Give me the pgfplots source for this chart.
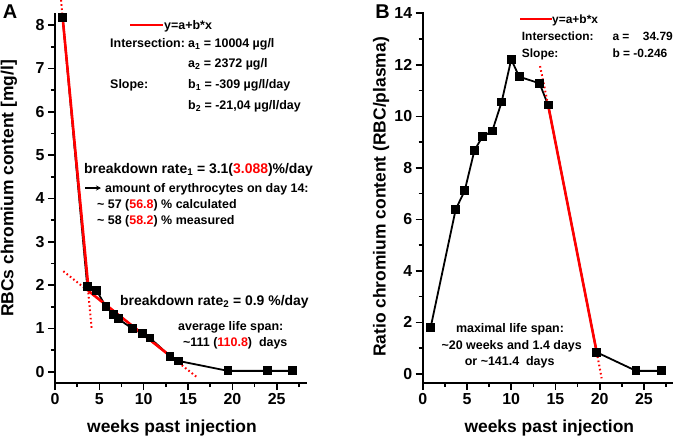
\documentclass[border=0pt]{standalone}
\usepackage{pgfplots}
\pgfplotsset{compat=1.18}
\usepackage{fontspec}
\setmainfont{Liberation Sans}
\usetikzlibrary{arrows.meta}
\newcommand{\ann}{\fontsize{12.5}{14}\selectfont\bfseries}
\newcommand{\annB}{\fontsize{12}{14}\selectfont\bfseries}
\newcommand{\bigann}{\fontsize{14}{16}\selectfont\bfseries}
\newcommand{\lab}{\fontsize{17.5}{20}\selectfont\bfseries}
\pgfplotsset{
  origin/.style={
    scale only axis,
    axis x line=bottom, axis y line=left,
    axis line style={line width=1.6bp,-},
    tick align=outside,
    major tick length=7bp, minor tick length=4bp,
    every tick/.style={black, line width=1.6bp},
    tick label style={font=\fontsize{16}{16}\selectfont\bfseries},
    /pgf/number format/assume math mode=true,
    clip=false,
  },
  fitline/.style={red, line width=2.6bp, no marks},
  fitdot/.style={red, line width=2bp, no marks, dash pattern=on 1.6bp off 2.6bp},
  dat/.style={black, line width=1.8bp, mark=square*, mark size=3.5bp, mark options={solid, fill=black}},
}
\begin{document}
\begin{tikzpicture}
\path[use as bounding box] (0bp,0bp) rectangle (677bp,-438bp);
% ---------------- Panel A ----------------
\begin{axis}[origin,
  at={(55bp,-383bp)}, anchor=south west,
  width=251.9bp, height=370bp,
  xmin=0, xmax=28.4, ymin=-0.26, ymax=8.28,
  xtick={0,5,10,15,20,25}, minor xtick={2.5,7.5,12.5,17.5,22.5,27.5},
  ytick={0,1,2,3,4,5,6,7,8}, minor ytick={0.5,1.5,2.5,3.5,4.5,5.5,6.5,7.5},
]
\addplot[dat] coordinates {(0.86,8.18)(3.64,1.96)(4.7,1.87)(5.75,1.50)(6.58,1.33)(7.14,1.22)(8.76,0.99)(9.88,0.88)(10.7,0.78)(12.97,0.36)(13.9,0.25)(19.5,0.02)(24.0,0.02)(26.75,0.02)};
\addplot[fitdot] coordinates {(0.68,8.58)(4.13,1.0)};
\addplot[fitdot] coordinates {(0.94,2.32)(15.97,-0.12)};
\addplot[fitline] coordinates {(0.86,8.18)(3.8,1.86)(14.05,0.19)};
\end{axis}
% ---------------- Panel B ----------------
\begin{axis}[origin,
  at={(422.7bp,-382.7bp)}, anchor=south west,
  width=250.5bp, height=370.7bp,
  xmin=0, xmax=28.3, ymin=-0.34, ymax=14.05,
  xtick={0,5,10,15,20,25}, minor xtick={2.5,7.5,12.5,17.5,22.5,27.5},
  ytick={0,2,4,6,8,10,12,14}, minor ytick={1,3,5,7,9,11,13},
]
\addplot[dat] coordinates {(0.9,1.81)(3.73,6.39)(4.74,7.11)(5.84,8.67)(6.74,9.21)(7.86,9.43)(8.92,10.56)(10.0,12.21)(10.9,11.54)(13.2,11.28)(14.17,10.44)(19.66,0.84)(24.1,0.12)(26.96,0.12)};
\addplot[fitdot] coordinates {(13.26,11.95)(14.17,10.44)};
\addplot[fitdot] coordinates {(19.66,0.84)(20.22,-0.17)};
\addplot[fitline] coordinates {(14.17,10.44)(19.66,0.84)};
\end{axis}
% ---------------- Labels A ----------------
\node[font=\fontsize{20}{20}\selectfont\bfseries, anchor=center] at (10bp,-12bp) {A};
\node[font=\lab, anchor=center] at (172bp,-428bp) {weeks past injection};
\node[font=\lab, anchor=center, rotate=90] at (9bp,-188.5bp) {RBCs chromium content [mg/l]};
\draw[red, line width=2.5bp] (130bp,-25bp) -- (163bp,-25bp);
\begin{scope}[every node/.style={inner sep=0pt, anchor=base west, font=\ann}]
\node at (164bp,-29.5bp) {y=a+b*x};
\node at (110bp,-47.5bp) {Intersection:};
\node at (188bp,-47.5bp) {a\textsubscript{1} = 10004 µg/l};
\node at (188bp,-67.5bp) {a\textsubscript{2} = 2372 µg/l};
\node at (110bp,-88.5bp) {Slope:};
\node at (188bp,-88.5bp) {b\textsubscript{1} = -309 µg/l/day};
\node at (188bp,-109.5bp) {b\textsubscript{2} = -21,04 µg/l/day};
\node[font=\bigann] at (84bp,-173bp) {breakdown rate\textsubscript{1} = 3.1(\textcolor{red}{3.088})\%/day};
\node at (105bp,-192.5bp) {amount of erythrocytes on day 14:};
\node at (97bp,-208bp) {\textasciitilde{} 57 (\textcolor{red}{56.8}) \% calculated};
\node at (97bp,-224.5bp) {\textasciitilde{} 58 (\textcolor{red}{58.2}) \% measured};
\node[font=\bigann] at (120bp,-305bp) {breakdown rate\textsubscript{2} = 0.9 \%/day};
\node at (178bp,-330.5bp) {average life span:};
\node at (183bp,-346bp) {\textasciitilde111 (\textcolor{red}{110.8})\ \ days};
\end{scope}
\draw[-{Stealth[length=5bp,width=5bp]}, line width=1.4bp] (85bp,-188bp) -- (101bp,-188bp);
% ---------------- Labels B ----------------
\node[font=\fontsize{20}{20}\selectfont\bfseries, anchor=center] at (382.5bp,-12bp) {B};
\node[font=\lab, anchor=center] at (549.3bp,-428bp) {weeks past injection};
\node[font=\lab, anchor=center, rotate=90] at (381bp,-197bp) {Ratio chromium content (RBC/plasma)};
\draw[red, line width=2.5bp] (520bp,-19bp) -- (551.7bp,-19bp);
\begin{scope}[every node/.style={inner sep=0pt, anchor=base west, font=\annB}]
\node at (552bp,-23.2bp) {y=a+b*x};
\node at (521.7bp,-40bp) {Intersection:};
\node at (612.3bp,-40bp) {a =};
\node[anchor=base east] at (673bp,-40bp) {34.79};
\node at (521.7bp,-57.3bp) {Slope:};
\node at (612.3bp,-57.3bp) {b = -0.246};
\end{scope}
\begin{scope}[every node/.style={inner sep=0pt, anchor=center, font=\ann}]
\node at (510bp,-329bp) {maximal life span:};
\node at (511.7bp,-346.7bp) {\textasciitilde20 weeks and 1.4 days};
\node at (509.7bp,-362.3bp) {or \textasciitilde141.4\ \ days};
\end{scope}
\end{tikzpicture}
\end{document}
